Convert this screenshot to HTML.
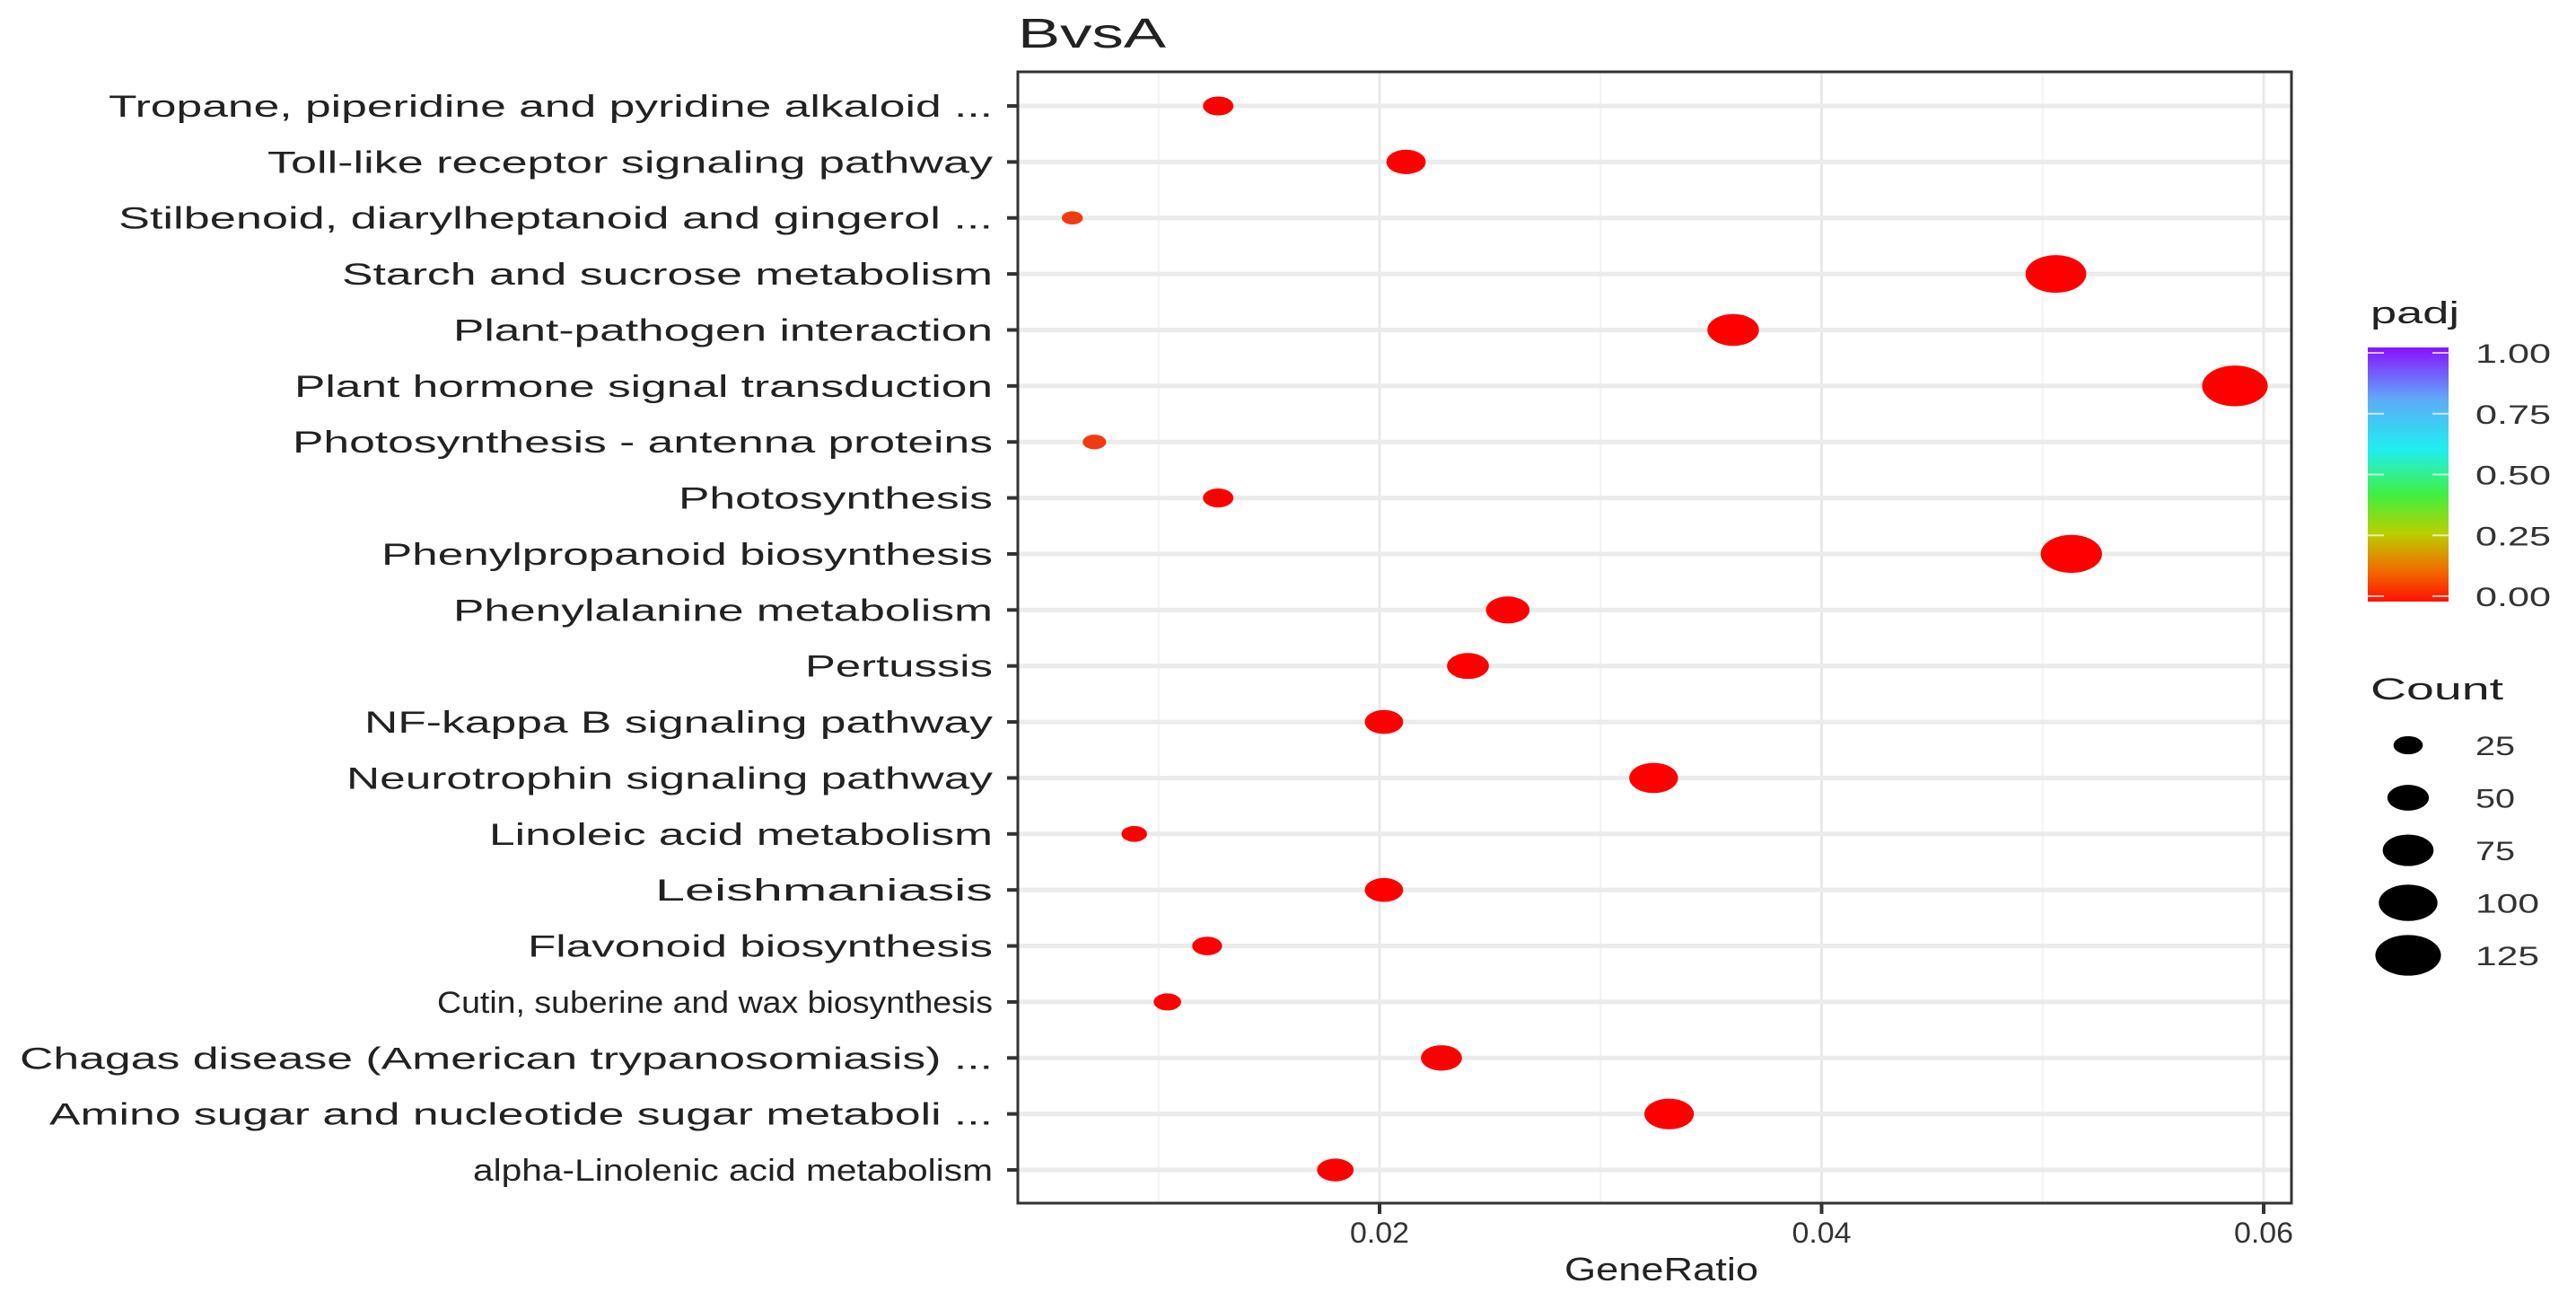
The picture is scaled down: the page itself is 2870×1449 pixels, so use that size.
<!DOCTYPE html>
<html><head><meta charset="utf-8"><style>
html,body{margin:0;padding:0;background:#fff;}
svg{display:block;font-family:"Liberation Sans",Arial,sans-serif;}
</style></head><body>
<svg id="chart" width="2870" height="1449" viewBox="0 0 2870 1449" xmlns="http://www.w3.org/2000/svg">
<defs>
<linearGradient id="padjGrad" x1="0" y1="1" x2="0" y2="0">
<stop offset="0" stop-color="#ff1000"/>
<stop offset="0.12" stop-color="#f26a00"/>
<stop offset="0.27" stop-color="#b8d000"/>
<stop offset="0.42" stop-color="#40f040"/>
<stop offset="0.6" stop-color="#20eef0"/>
<stop offset="0.8" stop-color="#60a8f8"/>
<stop offset="1" stop-color="#8a10ff"/>
</linearGradient>
</defs>
<g id="layer"></g>
</svg>
<script>
const categories = ["Tropane, piperidine and pyridine alkaloid ...","Toll-like receptor signaling pathway","Stilbenoid, diarylheptanoid and gingerol  ...","Starch and sucrose metabolism","Plant-pathogen interaction","Plant hormone signal transduction","Photosynthesis - antenna proteins","Photosynthesis","Phenylpropanoid biosynthesis","Phenylalanine metabolism","Pertussis","NF-kappa B signaling pathway","Neurotrophin signaling pathway","Linoleic acid metabolism","Leishmaniasis","Flavonoid biosynthesis","Cutin, suberine and wax biosynthesis","Chagas disease (American trypanosomiasis) ...","Amino sugar and nucleotide sugar metaboli ...","alpha-Linolenic acid metabolism"];
const geneRatio = [0.0127,0.0212,0.0061,0.0506,0.0360,0.0587,0.0071,0.0127,0.0513,0.0258,0.0240,0.0202,0.0324,0.0089,0.0202,0.0122,0.0104,0.0228,0.0331,0.0180];
const counts = [27,45,13,107,77,125,16,27,109,55,51,43,69,19,43,26,22,49,71,39];
const padj = [0.0,0.0,0.04,0.0,0.0,0.0,0.03,0.0,0.0,0.0,0.0,0.0,0.0,0.0,0.0,0.0,0.0,0.0,0.0,0.0];
const xTicks = [0.02,0.04,0.06];
const xTickLabels = ["0.02","0.04","0.06"];
const xMinor = [0.01,0.03,0.05];
const padjTicks = [0,0.25,0.5,0.75,1];
const padjTickLabels = ["0.00","0.25","0.50","0.75","1.00"];
const countLegend = [25,50,75,100,125];
// layout (label start positions)
const labelStartX = [121,298,132,381,505,328,326,756,425,505,897,406,386,545,730,588,487,22,55,527];

const NS="http://www.w3.org/2000/svg";
const layer=document.getElementById('layer');
const L=1134,R=2553,T=80,B=1340;
const x=v=>1537+(v-0.02)*24625;
const y=i=>118+i*62.37;
const rx=c=>3.27*Math.sqrt(c);
const ry=c=>rx(c)*0.62;
function mk(tag,attrs,parent){const e=document.createElementNS(NS,tag);for(const k in attrs)e.setAttribute(k,attrs[k]);(parent||layer).appendChild(e);return e;}
function padjColor(p){return p>0.02?'#f03a10':'#ff0000';}

let bg=mk('rect',{x:L,y:T,width:R-L,height:B-T,fill:'#fff'});


xMinor.forEach(v=>{let g=mk('line',{x1:x(v),x2:x(v),y1:T,y2:B,stroke:'#f2f2f2','stroke-width':2});

});
xTicks.forEach(v=>{let g=mk('line',{x1:x(v),x2:x(v),y1:T,y2:B,stroke:'#e8e8e8','stroke-width':3});

});
categories.forEach((c,i)=>{let g=mk('line',{x1:L,x2:R,y1:y(i),y2:y(i),stroke:'#ebebeb','stroke-width':5});

});

categories.forEach((c,i)=>{
 let e=mk('ellipse',{cx:x(geneRatio[i]),cy:y(i),rx:rx(counts[i]),ry:ry(counts[i]),fill:padjColor(padj[i])});
 
 
 let tk=mk('line',{x1:L-12,x2:L,y1:y(i),y2:y(i),stroke:'#333','stroke-width':4});
 
 
 let t=mk('text',{x:1106,y:y(i)+12,'text-anchor':'end','font-size':34,fill:'#222',textLength:1106-labelStartX[i],lengthAdjust:'spacingAndGlyphs'});
 t.textContent=c;
 
 
});
let border=mk('rect',{x:L,y:T,width:R-L,height:B-T,fill:'none',stroke:'#333','stroke-width':3});


xTicks.forEach((v,i)=>{
 let tk=mk('line',{x1:x(v),x2:x(v),y1:B,y2:B+12,stroke:'#333','stroke-width':4});
 
 
 let t=mk('text',{x:x(v),y:1384,'text-anchor':'middle','font-size':32,fill:'#333',textLength:66,lengthAdjust:'spacingAndGlyphs'});
 t.textContent=xTickLabels[i];
 
 
});
let xt=mk('text',{x:1851,y:1426,'text-anchor':'middle','font-size':36,fill:'#222',textLength:216,lengthAdjust:'spacingAndGlyphs'});
xt.textContent='GeneRatio';


let tt=mk('text',{x:1134,y:53,'font-size':46,fill:'#222',textLength:165,lengthAdjust:'spacingAndGlyphs'});
tt.textContent='BvsA';



// padj legend
const cbT=387,cbB=670,cbL=2638,cbW=90;
const py=p=>cbB-6-p*(cbB-cbT-12);
let pt=mk('text',{x:2641,y:360,'font-size':34,fill:'#222',textLength:99,lengthAdjust:'spacingAndGlyphs'});
pt.textContent='padj';


let cb=mk('rect',{x:cbL,y:cbT,width:cbW,height:cbB-cbT,fill:'url(#padjGrad)'});


padjTicks.forEach((p,i)=>{
 mk('line',{x1:cbL,x2:cbL+18,y1:py(p),y2:py(p),stroke:'#fff','stroke-width':2,opacity:0.7});
 mk('line',{x1:cbL+cbW-18,x2:cbL+cbW,y1:py(p),y2:py(p),stroke:'#fff','stroke-width':2,opacity:0.7});
 let t=mk('text',{x:2758,y:py(p)+11,'font-size':30,fill:'#333',textLength:84,lengthAdjust:'spacingAndGlyphs'});
 t.textContent=padjTickLabels[i];
 
 
});
// count legend
let ct=mk('text',{x:2641,y:779,'font-size':34,fill:'#222',textLength:148,lengthAdjust:'spacingAndGlyphs'});
ct.textContent='Count';


countLegend.forEach((c,i)=>{
 const cy=830+i*58.5;
 let e=mk('ellipse',{cx:2683,cy:cy,rx:rx(c),ry:ry(c),fill:'#000'});
 
 
 let t=mk('text',{x:2758,y:cy+11,'font-size':30,fill:'#333',textLength:String(c).length*22+(c>=100?5:0),lengthAdjust:'spacingAndGlyphs'});
 t.textContent=String(c);
 
 
});
</script>
</body></html>
